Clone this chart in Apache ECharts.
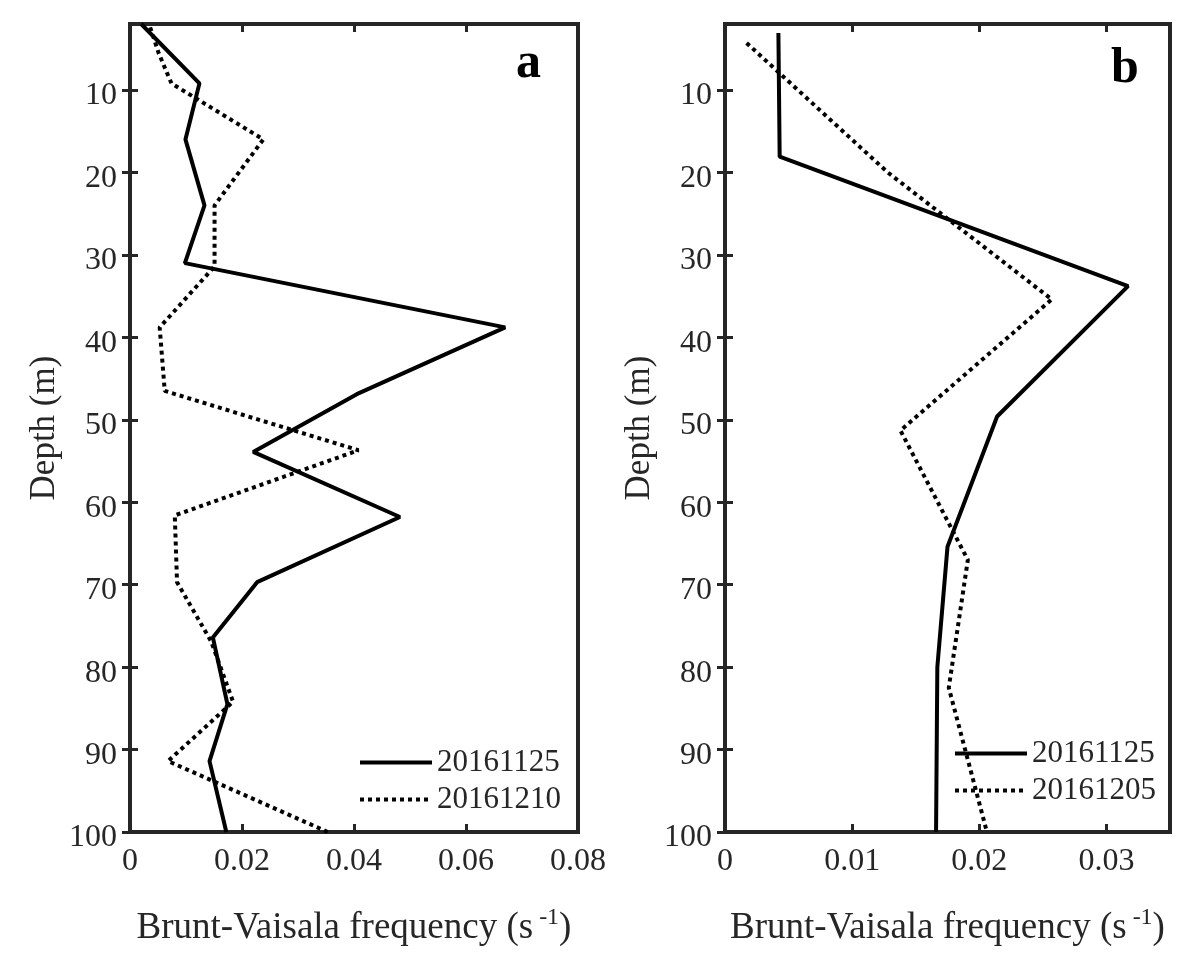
<!DOCTYPE html>
<html>
<head>
<meta charset="utf-8">
<script src="https://cdn.jsdelivr.net/npm/echarts@6/dist/echarts.min.js"></script>
<style>
html, body { margin: 0; background: #fff; }
#main { width: 1200px; height: 963px; }
</style>
</head>
<body>
<div id="main"></div>
<script>
// depth (m) and Brunt-Vaisala frequency (s^-1)
var depthA1 = [2, 9.2, 16, 24, 31, 38.8, 46.9, 53.9, 61.8, 69.7, 76.4, 84.5, 91.4, 100];
var freqA1  = [0.0020, 0.0124, 0.0099, 0.0133, 0.0098, 0.0670, 0.0405, 0.0220, 0.0482, 0.0227, 0.0148, 0.0174, 0.0142, 0.0172];
var depthA2 = [2.4, 5.5, 9.2, 16, 24, 31.4, 38.8, 46.5, 53.7, 61.6, 69.7, 76.9, 84.2, 91.4, 100];
var freqA2  = [0.0036, 0.0051, 0.0074, 0.0238, 0.0151, 0.0151, 0.0053, 0.0062, 0.0408, 0.0080, 0.0084, 0.0145, 0.0184, 0.0068, 0.0353];
var depthB1 = [3.1, 18.1, 33.8, 49.6, 65.4, 80, 100];
var freqB1  = [0.0042, 0.0043, 0.0317, 0.0214, 0.0175, 0.0167, 0.0166];
var depthB2 = [4.3, 20, 35.4, 51.3, 67, 82.5, 100];
var freqB2  = [0.0017, 0.0128, 0.0257, 0.0138, 0.0191, 0.0176, 0.0206];

var namesA = ['20161125', '20161210'];
var namesB = ['20161125', '20161205'];
var depthTicks = [10, 20, 30, 40, 50, 60, 70, 80, 90, 100];
var ticksA = [0, 0.02, 0.04, 0.06, 0.08];
var ticksB = [0, 0.01, 0.02, 0.03];

var FONT = '"Liberation Serif", "Times New Roman", serif';
var INK = '#262626';

function pairs(xs, ys) {
  return xs.map(function (v, i) { return [v, ys[i]]; });
}

var tickStyle = { show: true, inside: true, length: 8, lineStyle: { color: INK, width: 3 } };

function xAxes(grid, max, ticks) {
  var bottom = {
    type: 'value', gridIndex: grid, position: 'bottom', min: 0, max: max,
    axisLine: { show: false },
    axisTick: Object.assign({ customValues: ticks }, tickStyle),
    splitLine: { show: false },
    axisLabel: { customValues: ticks, margin: 14, fontFamily: FONT, fontSize: 32, color: INK },
    name: '{t|Brunt-Vaisala frequency (s}{s| -1}{t|)}',
    nameLocation: 'middle', nameGap: 74,
    nameTextStyle: {
      rich: {
        t: { fontFamily: FONT, fontSize: 37, color: INK, lineHeight: 44 },
        s: { fontFamily: FONT, fontSize: 24, color: INK, lineHeight: 24, verticalAlign: 'top' }
      }
    }
  };
  var top = {
    type: 'value', gridIndex: grid, position: 'top', min: 0, max: max,
    axisLine: { show: false },
    axisTick: Object.assign({ customValues: ticks }, tickStyle),
    axisLabel: { show: false },
    splitLine: { show: false }
  };
  return [bottom, top];
}

function yAxes(grid) {
  var left = {
    type: 'value', gridIndex: grid, position: 'left', inverse: true, min: 2, max: 100,
    axisLine: { show: false },
    axisTick: Object.assign({ customValues: depthTicks }, tickStyle),
    splitLine: { show: false },
    axisLabel: {
      customValues: depthTicks, margin: 13, verticalAlign: 'top', lineHeight: 12,
      fontFamily: FONT, fontSize: 32, color: INK
    },
    name: 'Depth (m)', nameLocation: 'middle', nameGap: 68,
    nameTextStyle: { fontFamily: FONT, fontSize: 35, color: INK }
  };
  var right = {
    type: 'value', gridIndex: grid, position: 'right', inverse: true, min: 2, max: 100,
    axisLine: { show: false },
    axisTick: Object.assign({ customValues: depthTicks }, tickStyle),
    axisLabel: { show: false },
    splitLine: { show: false }
  };
  return [left, right];
}

function line(name, xi, data, dotted) {
  return {
    type: 'line', name: name, xAxisIndex: xi, yAxisIndex: xi,
    data: data, symbol: 'none', clip: true, animation: false,
    lineStyle: { color: '#000', width: 4, type: dotted ? [4, 4] : 'solid', cap: 'butt' },
    itemStyle: { color: '#000' }
  };
}

function legend(names, left, top) {
  return {
    data: names, orient: 'vertical', left: left, top: top,
    itemWidth: 72, itemHeight: 14, itemGap: 6, selectedMode: false,
    itemStyle: { opacity: 0, borderWidth: 0 },
    lineStyle: { width: 4 },
    textStyle: { fontFamily: FONT, fontSize: 31, color: INK, lineHeight: 30 }
  };
}

var chart = echarts.init(document.getElementById('main'));
chart.setOption({
  backgroundColor: '#fff',
  animation: false,
  grid: [
    { left: 130, top: 24, width: 448, height: 808, show: true, borderColor: INK, borderWidth: 4 },
    { left: 725, top: 24, width: 445, height: 808, show: true, borderColor: INK, borderWidth: 4 }
  ],
  xAxis: xAxes(0, 0.08, ticksA).concat(xAxes(1, 0.035, ticksB)),
  yAxis: yAxes(0).concat(yAxes(1)),
  legend: [legend(namesA, 353, 742), legend(namesB, 948, 733)],
  graphic: [
    { type: 'text', left: 516, top: 39, style: { text: 'a', font: 'bold 50px ' + FONT, fill: '#000' } },
    { type: 'text', left: 1111, top: 44, style: { text: 'b', font: 'bold 50px ' + FONT, fill: '#000' } }
  ],
  series: [
    line(namesA[0], 0, pairs(freqA1, depthA1), false),
    line(namesA[1], 0, pairs(freqA2, depthA2), true),
    line(namesB[0], 2, pairs(freqB1, depthB1), false),
    line(namesB[1], 2, pairs(freqB2, depthB2), true)
  ]
});
</script>
</body>
</html>
